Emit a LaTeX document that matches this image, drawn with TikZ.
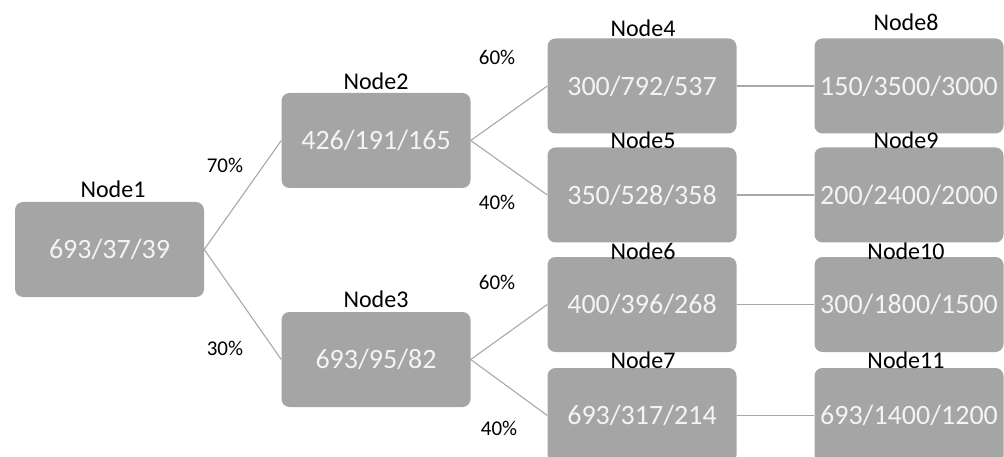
\documentclass[tikz,border=0pt]{standalone}
\usepackage{fontspec}
\setmainfont{Carlito}
\definecolor{boxgray}{HTML}{A5A5A5}
\definecolor{boxtext}{HTML}{F4F4F4}
\definecolor{linegray}{HTML}{A8A8A8}

\begin{document}
\begin{tikzpicture}[x=1pt, y=-1pt,
        box/.style={fill=boxgray, rounded corners=8pt, minimum width=189pt, minimum height=95pt, inner sep=0pt, text=boxtext, font={\fontsize{28}{30}\selectfont}},
        tag/.style={font={\fontsize{24}{26}\selectfont}, black, inner sep=0pt},
        pct/.style={font={\fontsize{21}{23}\selectfont}, black, inner sep=0pt},
        link/.style={draw=linegray, line width=1.1pt}]
            \useasboundingbox (0, 0) rectangle (1004, 457);
            % boxes
            \node[box] (n1) at (109.5, 249.5) {693/37/39};
            \node[box] (n2) at (376, 140.5) {426/191/165};
            \node[box] (n3) at (376, 359.5) {693/95/82};
            \node[box] (n4) at (642, 86) {300/792/537};
            \node[box] (n5) at (642, 195) {350/528/358};
            \node[box] (n6) at (642, 304.5) {400/396/268};
            \node[box] (n7) at (642, 415.5) {693/317/214};
            \node[box] (n8) at (909, 86) {150/3500/3000};
            \node[box] (n9) at (909, 195) {200/2400/2000};
            \node[box] (n10) at (909, 304.5) {300/1800/1500};
            \node[box] (n11) at (909, 415.5) {693/1400/1200};
            % names
            \node[tag] (t1) at (113, 189) {Node1};
            \node[tag] (t2) at (376, 81) {Node2};
            \node[tag] (t3) at (376, 299) {Node3};
            \node[tag] (t4) at (643, 28) {Node4};
            \node[tag] (t5) at (643, 140) {Node5};
            \node[tag] (t6) at (643, 251) {Node6};
            \node[tag] (t7) at (643, 360) {Node7};
            \node[tag] (t8) at (906, 22) {Node8};
            \node[tag] (t9) at (906, 140) {Node9};
            \node[tag] (t10) at (906, 251) {Node10};
            \node[tag] (t11) at (906, 360) {Node11};
            % shares
            \node[pct] (p12) at (225, 165) {70\%};
            \node[pct] (p13) at (225, 348) {30\%};
            \node[pct] (p24) at (497, 57) {60\%};
            \node[pct] (p25) at (497, 202) {40\%};
            \node[pct] (p36) at (497, 282) {60\%};
            \node[pct] (p37) at (499, 428) {40\%};
            % links
            \draw[link] (n1.east) -- (n2.west);
            \draw[link] (n1.east) -- (n3.west);
            \draw[link] (n2.east) -- (n4.west);
            \draw[link] (n2.east) -- (n5.west);
            \draw[link] (n3.east) -- (n6.west);
            \draw[link] (n3.east) -- (n7.west);
            \draw[link] (n4.east) -- (n8.west);
            \draw[link] (n5.east) -- (n9.west);
            \draw[link] (n6.east) -- (n10.west);
            \draw[link] (n7.east) -- (n11.west);
        \end{tikzpicture}
\end{document}
